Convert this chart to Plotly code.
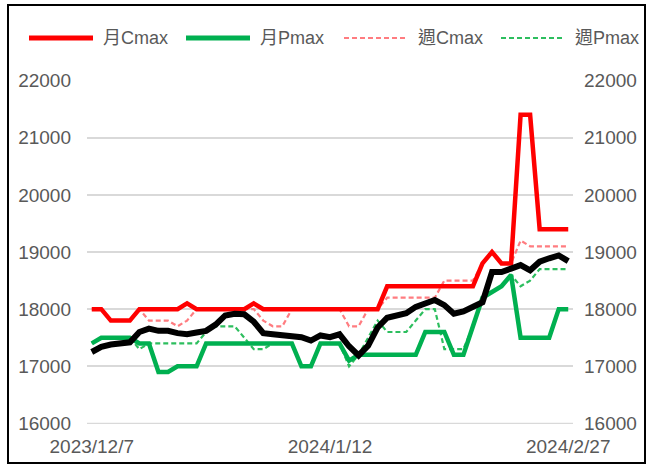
import plotly.graph_objects as go

dates = [
    "2023/12/7", "2023/12/8", "2023/12/11", "2023/12/12", "2023/12/13", "2023/12/14", "2023/12/15",
    "2023/12/18", "2023/12/19", "2023/12/20", "2023/12/21", "2023/12/22", "2023/12/25", "2023/12/26",
    "2023/12/27", "2023/12/28", "2023/12/29", "2024/1/2", "2024/1/3", "2024/1/4", "2024/1/5",
    "2024/1/8", "2024/1/9", "2024/1/10", "2024/1/11", "2024/1/12", "2024/1/15", "2024/1/16",
    "2024/1/17", "2024/1/18", "2024/1/19", "2024/1/22", "2024/1/23", "2024/1/24", "2024/1/25",
    "2024/1/26", "2024/1/29", "2024/1/30", "2024/1/31", "2024/2/1", "2024/2/2", "2024/2/5",
    "2024/2/15", "2024/2/16", "2024/2/19", "2024/2/20", "2024/2/21", "2024/2/22", "2024/2/23",
    "2024/2/26", "2024/2/27",
]

month_cmax = [
    18000, 18000, 17800, 17800, 17800, 18000, 18000, 18000, 18000, 18000,
    18100, 18000, 18000, 18000, 18000, 18000, 18000, 18100, 18000, 18000,
    18000, 18000, 18000, 18000, 18000, 18000, 18000, 18000, 18000, 18000,
    18000, 18400, 18400, 18400, 18400, 18400, 18400, 18400, 18400, 18400,
    18400, 18800, 19000, 18800, 18800, 21400, 21400, 19400, 19400, 19400,
    19400,
]

month_pmax = [
    17400, 17500, 17500, 17500, 17500, 17400, 17400, 16900, 16900, 17000,
    17000, 17000, 17400, 17400, 17400, 17400, 17400, 17400, 17400, 17400,
    17400, 17400, 17000, 17000, 17400, 17400, 17400, 17100, 17200, 17200,
    17200, 17200, 17200, 17200, 17200, 17600, 17600, 17600, 17200, 17200,
    17700, 18200, 18300, 18400, 18600, 17500, 17500, 17500, 17500, 18000,
    18000,
]

week_cmax = [
    18000, 18000, 17800, 17800, 17800, 18000, 17800, 17800, 17800, 17700,
    17800, 18000, 18000, 18000, 18000, 18000, 18000, 18000, 17800, 17700,
    17700, 18000, 18000, 18000, 18000, 18000, 18000, 17700, 17700, 18000,
    18000, 18200, 18200, 18200, 18200, 18200, 18200, 18500, 18500, 18500,
    18500, 18800, 19000, 18800, 18800, 19200, 19100, 19100, 19100, 19100,
    19100,
]

week_pmax = [
    17400, 17500, 17500, 17500, 17500, 17300, 17400, 17400, 17400, 17400,
    17400, 17400, 17600, 17700, 17700, 17700, 17500, 17300, 17300, 17400,
    17400, 17400, 17000, 17000, 17400, 17400, 17400, 17000, 17200, 17500,
    17800, 17600, 17600, 17600, 17800, 18000, 18000, 17300, 17300, 17300,
    17700, 18200, 18300, 18400, 18600, 18400, 18500, 18700, 18700, 18700,
    18700,
]

index_price = [
    17250, 17340, 17380, 17400, 17420, 17600, 17660, 17620, 17620, 17580,
    17560, 17590, 17620, 17730, 17890, 17920, 17910, 17780, 17580, 17560,
    17540, 17540, 17510, 17450, 17540, 17510, 17560, 17350, 17190, 17360,
    17680, 17850, 17890, 17930, 18040, 18100, 18160, 18070, 17920, 17960,
    18050, 18120, 18650, 18650, 18710, 18770, 18680, 18830, 18890, 18940,
    18840,
]

tick_dates = ["2023/12/7", "2024/1/12", "2024/2/27"]
y_ticks = [16000, 17000, 18000, 19000, 20000, 21000, 22000]
y_tick_text = ["16000", "17000", "18000", "19000", "20000", "21000", "22000"]

legend_names = ["月Cmax", "月Pmax", "週Cmax", "週Pmax"]
legend_colors = ["#FF0000", "#00B050", "#FF7C80", "#2DBE5E"]

FONT = "Liberation Sans, Arial, Noto Sans CJK TC, sans-serif"
GREY = "#595959"
GRID = "#D9D9D9"

# plot area in page pixels
PX0, PX1, PY0, PY1 = 87, 573, 80, 424


def px_x(p):
    return (p - PX0) / (PX1 - PX0)


def px_y(p):
    return (PY1 - p) / (PY1 - PY0)


fig = go.Figure()
fig.add_trace(go.Scatter(x=dates, y=index_price, mode="lines", yaxis="y2",
                         line=dict(color="#000000", width=6), showlegend=False))
fig.add_trace(go.Scatter(x=dates, y=week_cmax, mode="lines", name=legend_names[2],
                         line=dict(color=legend_colors[2], width=2.2, dash="5px,3px"),
                         showlegend=False))
fig.add_trace(go.Scatter(x=dates, y=week_pmax, mode="lines", name=legend_names[3],
                         line=dict(color=legend_colors[3], width=2.2, dash="5px,3px"),
                         showlegend=False))
fig.add_trace(go.Scatter(x=dates, y=month_cmax, mode="lines", name=legend_names[0],
                         line=dict(color=legend_colors[0], width=4.5), showlegend=False))
fig.add_trace(go.Scatter(x=dates, y=month_pmax, mode="lines", name=legend_names[1],
                         line=dict(color=legend_colors[1], width=4.5), showlegend=False))

shapes = []
annotations = []

# bottom gridline (plotly omits the gridline lying on the plot edge)
shapes.append(dict(type="line", xref="paper", yref="y", x0=0, x1=1,
                   y0=y_ticks[0], y1=y_ticks[0], layer="below",
                   line=dict(color=GRID, width=1.5)))

# legend drawn as line samples + text labels (wide Excel-style legend)
LEG_Y = 38
starts = [29, 186, 344, 501]
for i, (nm, col) in enumerate(zip(legend_names, legend_colors)):
    s = starts[i]
    dashed = i >= 2
    shapes.append(dict(type="line", xref="paper", yref="paper",
                       x0=px_x(s), x1=px_x(s + 64), y0=px_y(LEG_Y), y1=px_y(LEG_Y),
                       line=dict(color=col, width=2.2 if dashed else 5,
                                 dash="5px,3px" if dashed else "solid")))
    annotations.append(dict(xref="paper", yref="paper", x=px_x(s + 72), y=px_y(LEG_Y),
                            xanchor="left", yanchor="middle", showarrow=False, text=nm,
                            font=dict(size=18, color=GREY, family=FONT)))

shapes.append(dict(type="rect", xref="paper", yref="paper",
                   x0=px_x(8), x1=px_x(645), y0=px_y(463), y1=px_y(5),
                   line=dict(color="#000000", width=2), fillcolor="rgba(0,0,0,0)"))

fig.update_layout(
    width=649, height=465,
    margin=dict(l=PX0, r=649 - PX1, t=PY0, b=465 - PY1, autoexpand=False),
    paper_bgcolor="white", plot_bgcolor="white",
    font=dict(family=FONT, color=GREY),
    showlegend=False,
    xaxis=dict(type="category", range=[-0.5, 50.5], tickmode="array",
               tickvals=tick_dates, ticktext=tick_dates, showgrid=False,
               showline=False, zeroline=False, ticks="", automargin=False,
               tickfont=dict(size=19, color=GREY), ticklabelstandoff=9),
    yaxis=dict(range=[15990, 22010], tickvals=y_ticks, ticktext=y_tick_text, showgrid=True,
               gridcolor=GRID, gridwidth=1.5, zeroline=False, showline=False,
               automargin=False,
               tickfont=dict(size=19, color=GREY), ticklabelstandoff=15),
    yaxis2=dict(range=[15990, 22010], tickvals=y_ticks, ticktext=y_tick_text,
                overlaying="y", side="right", automargin=False,
                showgrid=False, zeroline=False, showline=False,
                tickfont=dict(size=19, color=GREY), ticklabelstandoff=10),
    shapes=shapes,
    annotations=annotations,
)

fig.write_html("out.html", config={"displayModeBar": False},
               post_script="document.body.style.margin='0';")
